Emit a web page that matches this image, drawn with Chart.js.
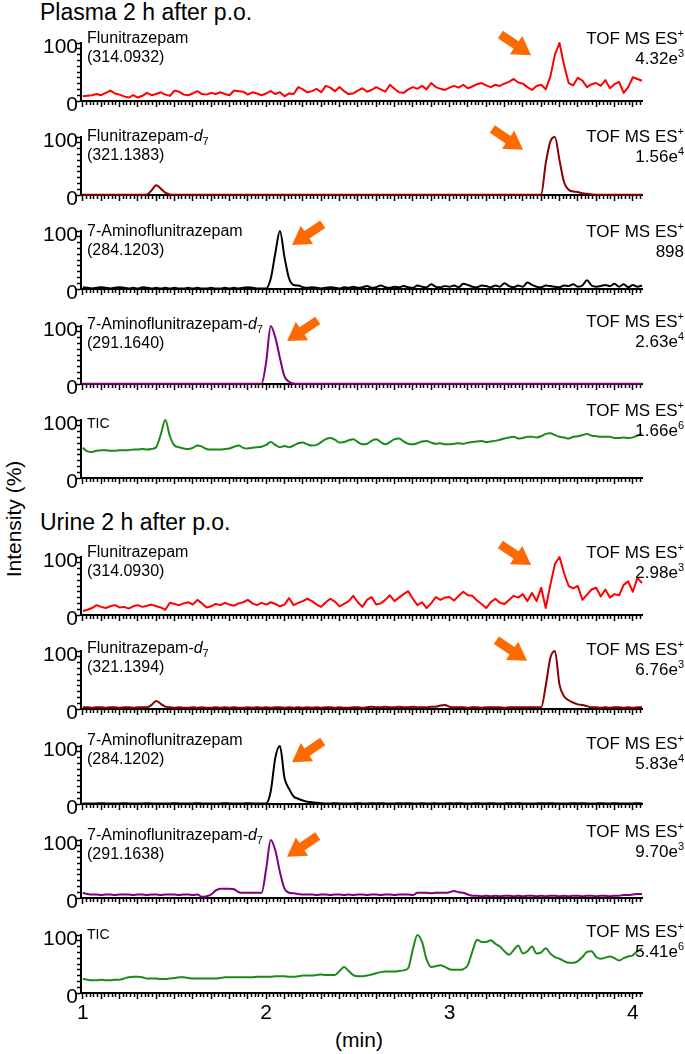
<!DOCTYPE html>
<html>
<head>
<meta charset="utf-8">
<script src="https://cdn.jsdelivr.net/npm/chart.js"></script>
<style>
  body { margin: 0; background: #fff; }
  #fig { position: relative; width: 685px; height: 1054px; overflow: hidden;
         font-family: 'Liberation Sans', Arial, sans-serif; color: #000; }
  .box { position: absolute; left: 0; width: 660px; }
  .title { position: absolute; left: 40px; font-size: 23px; line-height: 23px; white-space: nowrap; }
  .name { position: absolute; left: 87px; font-size: 16px; line-height: 19px; white-space: nowrap; }
  .tic { font-size: 14px; }
  .tof { position: absolute; right: 1px; font-size: 17px; line-height: 20px; text-align: right; white-space: nowrap; }
  sup, sub { font-size: 11px; line-height: 0; }
  #ylab { position: absolute; left: -56.5px; top: 507px; width: 140px; height: 24px; line-height: 24px;
          font-size: 21px; text-align: center; transform: rotate(-90deg); white-space: nowrap; }
  #xlab { position: absolute; left: 309px; top: 1029px; width: 100px; font-size: 21px; line-height: 21px; text-align: center; }
</style>
</head>
<body>
<div id="fig">
  <div id="ylab">Intensity (%)</div>
  <div id="xlab">(min)</div>
</div>
<script>
// retention time (min)
const times = [
  1, 1.025, 1.05, 1.075, 1.1, 1.125, 1.15, 1.175, 1.2, 1.225,
  1.25, 1.275, 1.3, 1.325, 1.35, 1.375, 1.4, 1.425, 1.45, 1.475,
  1.5, 1.525, 1.55, 1.575, 1.6, 1.625, 1.65, 1.675, 1.7, 1.725,
  1.75, 1.775, 1.8, 1.825, 1.85, 1.875, 1.9, 1.925, 1.95, 1.975,
  2, 2.025, 2.05, 2.075, 2.1, 2.125, 2.15, 2.175, 2.2, 2.225,
  2.25, 2.275, 2.3, 2.325, 2.35, 2.375, 2.4, 2.425, 2.45, 2.475,
  2.5, 2.525, 2.55, 2.575, 2.6, 2.625, 2.65, 2.675, 2.7, 2.725,
  2.75, 2.775, 2.8, 2.825, 2.85, 2.875, 2.9, 2.925, 2.95, 2.975,
  3, 3.025, 3.05, 3.075, 3.1, 3.125, 3.15, 3.175, 3.2, 3.225,
  3.25, 3.275, 3.3, 3.325, 3.35, 3.375, 3.4, 3.425, 3.45, 3.475,
  3.5, 3.525, 3.55, 3.575, 3.6, 3.625, 3.65, 3.675, 3.7, 3.725,
  3.75, 3.775, 3.8, 3.825, 3.85, 3.875, 3.9, 3.925, 3.95, 3.975,
  4, 4.025, 4.05
];

// plasma, relative intensity (%)
const plasmaFlu = [
  8, 9, 10, 12, 10, 14, 18, 13, 11, 8,
  6, 10, 6, 9, 14, 10, 12, 15, 11, 9,
  18, 16, 11, 10, 13, 17, 12, 11, 14, 12,
  15, 12, 10, 18, 17, 16, 11, 15, 13, 10,
  13, 17, 12, 15, 8, 13, 12, 24, 20, 15,
  17, 21, 15, 26, 23, 17, 24, 17, 12, 13,
  18, 22, 16, 19, 24, 20, 16, 28, 21, 15,
  14, 20, 24, 21, 26, 20, 31, 24, 21, 19,
  23, 26, 23, 28, 22, 25, 29, 31, 27, 24,
  28, 26, 30, 33, 38, 32, 30, 24, 19, 26,
  28, 20, 42, 80, 100, 62, 31, 27, 40, 35,
  24, 29, 31, 26, 36, 22, 29, 33, 14, 24,
  41, 38, 35
];
const plasmaFluD7 = [
  0.5, 0.6, 0.5, 0.4, 0.5, 0.6, 0.5, 0.5, 0.4, 0.5,
  0.5, 0.6, 0.5, 0.5, 1, 8, 17, 11, 4, 1,
  0.6, 0.5, 0.5, 0.4, 0.5, 0.6, 0.5, 0.5, 0.5, 0.6,
  0.5, 0.4, 0.5, 0.6, 0.5, 0.5, 0.4, 0.5, 0.6, 0.5,
  0.5, 0.6, 0.5, 0.5, 0.4, 0.5, 0.6, 0.5, 0.5, 0.5,
  0.6, 0.5, 0.4, 0.5, 0.5, 0.6, 0.5, 0.5, 0.4, 0.5,
  0.5, 0.6, 0.5, 0.5, 0.6, 0.5, 0.4, 0.5, 0.6, 0.5,
  0.5, 0.5, 0.6, 0.5, 0.4, 0.5, 0.5, 0.6, 0.5, 0.5,
  0.6, 0.5, 0.5, 0.4, 0.5, 0.6, 0.5, 0.5, 0.5, 0.6,
  0.5, 0.4, 0.5, 0.6, 0.5, 0.5, 0.5, 0.6, 0.5, 0.5,
  1, 55, 92, 100, 60, 22, 9, 6, 5, 3,
  2, 1, 0.6, 0.5, 0.5, 0.6, 0.5, 0.5, 0.4, 0.5,
  0.5, 0.6, 0.5
];
const plasmaAmino = [
  3, 2, 1, 2, 3, 2, 1, 2, 3, 2,
  1, 2, 1, 3, 2, 1, 2, 1, 2, 1,
  2, 1, 1, 2, 1, 2, 1, 1, 2, 1,
  1, 2, 1, 2, 1, 2, 3, 2, 1, 1,
  1, 18, 62, 100, 55, 18, 7, 6, 3, 2,
  3, 2, 1, 2, 3, 2, 1, 3, 2, 4,
  2, 3, 5, 2, 3, 6, 3, 2, 4, 3,
  5, 3, 2, 6, 4, 3, 8, 4, 3, 5,
  4, 6, 3, 9, 7, 4, 3, 6, 5, 3,
  6, 4, 10, 5, 3, 6, 4, 11, 7, 4,
  3, 6, 5, 4, 3, 6, 5, 8, 4, 6,
  15, 6, 4, 5, 7, 5, 9, 4, 8, 3,
  7, 4, 6
];
const plasmaAminoD7 = [
  0.4, 0.5, 0.4, 0.5, 0.5, 0.4, 0.5, 0.4, 0.5, 0.5,
  0.4, 0.5, 0.5, 0.4, 0.5, 0.4, 0.5, 0.5, 0.4, 0.5,
  0.5, 0.4, 0.5, 0.5, 0.4, 0.5, 0.4, 0.5, 0.5, 0.4,
  0.5, 0.4, 0.5, 0.5, 0.4, 0.5, 0.5, 0.4, 0.5, 0.5,
  38, 100, 80, 45, 13, 4, 1, 0.5, 0.4, 0.5,
  0.5, 0.4, 0.5, 0.5, 0.4, 0.5, 0.4, 0.5, 0.5, 0.4,
  0.5, 0.4, 0.5, 0.5, 0.4, 0.5, 0.5, 0.4, 0.5, 0.5,
  0.4, 0.5, 0.5, 0.4, 0.5, 0.4, 0.5, 0.5, 0.4, 0.5,
  0.5, 0.4, 0.5, 0.5, 0.4, 0.5, 0.4, 0.5, 0.5, 0.4,
  0.5, 0.4, 0.5, 0.5, 0.4, 0.5, 0.5, 0.4, 0.5, 0.5,
  0.4, 0.5, 0.5, 0.4, 0.5, 0.4, 0.5, 0.5, 0.4, 0.5,
  0.5, 0.4, 0.5, 0.5, 0.4, 0.5, 0.4, 0.5, 0.5, 0.4,
  0.5, 0.5, 0.4
];
const plasmaTic = [
  52, 46, 45, 47, 48, 48, 47, 47, 48, 48,
  48, 49, 49, 50, 49, 50, 53, 75, 100, 72,
  56, 53, 51, 50, 52, 56, 54, 50, 49, 49,
  49, 50, 51, 54, 56, 52, 51, 52, 53, 54,
  57, 62, 57, 53, 55, 53, 56, 60, 61, 58,
  56, 57, 62, 67, 69, 66, 61, 62, 65, 67,
  62, 58, 59, 64, 67, 62, 58, 62, 67, 68,
  63, 59, 58, 60, 63, 64, 61, 59, 60, 58,
  58, 59, 60, 59, 61, 62, 63, 64, 62, 63,
  64, 66, 68, 70, 71, 68, 69, 71, 71, 70,
  72, 76, 77, 74, 71, 70, 68, 71, 72, 74,
  76, 73, 72, 71, 71, 71, 69, 69, 70, 69,
  70, 73, 77
];

// urine, relative intensity (%)
const urineFlu = [
  7, 9, 12, 17, 14, 12, 15, 17, 13, 14,
  11, 15, 17, 14, 16, 18, 15, 13, 9, 21,
  19, 17, 20, 22, 18, 26, 20, 13, 15, 19,
  17, 21, 18, 16, 20, 22, 26, 20, 17, 21,
  18, 22, 19, 15, 18, 29, 17, 21, 24, 28,
  24, 18, 14, 22, 28, 23, 15, 19, 24, 33,
  22, 14, 26, 31, 18, 20, 26, 34, 24, 30,
  36, 41, 28, 17, 22, 12, 20, 31, 26, 30,
  31, 25, 33, 40, 34, 33, 25, 19, 12, 22,
  28, 21, 19, 26, 33, 30, 36, 24, 38, 24,
  47, 12, 52, 88, 100, 72, 50, 46, 50, 26,
  35, 44, 47, 32, 44, 30, 36, 34, 52, 58,
  40, 64, 55
];
const urineFluD7 = [
  3, 3, 2, 3, 3, 2, 3, 3, 2, 3,
  3, 2, 3, 3, 3, 7, 14, 9, 4, 3,
  2, 3, 2, 2, 3, 2, 3, 2, 2, 3,
  2, 3, 2, 3, 2, 2, 3, 2, 3, 2,
  3, 2, 3, 3, 2, 3, 2, 3, 2, 3,
  2, 3, 2, 3, 3, 2, 3, 2, 2, 3,
  3, 2, 3, 4, 3, 3, 4, 3, 3, 4,
  3, 3, 4, 3, 3, 3, 4, 4, 6, 7,
  4, 3, 3, 3, 2, 3, 3, 2, 3, 3,
  3, 3, 2, 3, 3, 3, 3, 3, 3, 3,
  3, 40, 88, 100, 42, 22, 15, 11, 8, 7,
  5, 3, 3, 2, 3, 2, 3, 3, 2, 3,
  2, 3, 3
];
const urineAmino = [
  1, 1, 0.8, 1, 1.2, 1, 0.8, 1, 1, 1.2,
  1, 0.8, 1, 1, 1.2, 1, 1, 0.8, 1, 1,
  1.2, 1, 0.8, 1, 1, 1.2, 1, 1, 0.8, 1,
  1, 1.2, 1, 0.8, 1, 1, 1.2, 1, 1, 0.8,
  1, 22, 80, 100, 45, 26, 13, 9, 6, 4,
  3, 2, 1.5, 1, 1, 1.2, 1, 0.8, 1, 1,
  1.2, 1, 0.8, 1.5, 1, 1.2, 1, 0.8, 1, 1.5,
  1, 1.2, 1, 0.8, 1.5, 1, 1, 1.2, 0.8, 1,
  1.5, 1, 1.2, 1, 0.8, 1, 1.5, 1, 1, 1.2,
  1, 0.8, 1, 1.5, 1, 1.2, 1, 1, 0.8, 1,
  1.2, 1, 1.5, 1, 0.8, 1, 1, 1.2, 1, 1.5,
  1, 0.8, 1, 1.2, 1, 1, 1.5, 1, 0.8, 1,
  1, 1.2, 1
];
const urineAminoD7 = [
  9, 7, 6, 6, 5, 6, 6, 5, 6, 6,
  6, 5, 6, 6, 5, 6, 6, 5, 6, 6,
  6, 5, 6, 6, 5, 6, 2, 3, 6, 13,
  16, 16, 16, 15, 10, 9, 9, 9, 9, 9,
  50, 100, 82, 45, 16, 9, 8, 7, 6, 6,
  6, 5, 6, 6, 5, 6, 6, 5, 6, 5,
  6, 6, 5, 6, 6, 5, 6, 6, 5, 6,
  6, 6, 5, 9, 9, 9, 8, 9, 9, 9,
  10, 12, 10, 9, 6, 4, 4, 3, 4, 3,
  4, 3, 4, 4, 3, 4, 3, 4, 4, 3,
  4, 3, 4, 4, 3, 4, 3, 4, 4, 3,
  4, 4, 3, 4, 4, 3, 4, 4, 5, 5,
  6, 7, 7
];
const urineTic = [
  24, 23, 22, 22, 23, 22, 22, 23, 23, 25,
  27, 28, 28, 27, 25, 25, 25, 24, 24, 25,
  26, 27, 27, 26, 25, 25, 25, 25, 25, 25,
  26, 27, 27, 27, 27, 27, 27, 27, 28, 28,
  28, 28, 29, 29, 29, 28, 28, 29, 30, 30,
  30, 31, 32, 31, 31, 31, 38, 45, 38, 31,
  29, 29, 30, 32, 34, 36, 37, 37, 37, 38,
  39, 43, 75, 100, 88, 58, 45, 46, 48, 45,
  41, 40, 40, 41, 48, 72, 92, 88, 88, 91,
  85, 80, 72, 66, 74, 82, 68, 72, 80, 68,
  70, 77, 68, 62, 59, 55, 52, 52, 55, 62,
  71, 72, 62, 59, 61, 63, 60, 56, 60, 63,
  65, 72, 77
];

const sampleTitles = ['Plasma 2 h after p.o.', 'Urine 2 h after p.o.'];
const compoundNames = [
  'Flunitrazepam', 'Flunitrazepam-<i>d</i><sub>7</sub>', '7-Aminoflunitrazepam', '7-Aminoflunitrazepam-<i>d</i><sub>7</sub>', 'TIC',
  'Flunitrazepam', 'Flunitrazepam-<i>d</i><sub>7</sub>', '7-Aminoflunitrazepam', '7-Aminoflunitrazepam-<i>d</i><sub>7</sub>', 'TIC'
];
const mzValues = ['314.0932', '321.1383', '284.1203', '291.1640', '', '314.0930', '321.1394', '284.1202', '291.1638', ''];
const scaleFactors = ['4.32e3', '1.56e4', '898', '2.63e4', '1.66e6', '2.98e3', '6.76e3', '5.83e4', '9.70e3', '5.41e6'];
const yTickLabels = [0, 100];
const xTickLabels = [1, 2, 3, 4];

const seriesList = [plasmaFlu, plasmaFluD7, plasmaAmino, plasmaAminoD7, plasmaTic,
                    urineFlu, urineFluD7, urineAmino, urineAminoD7, urineTic];

// layout / styling
const lineColors = ['#ff0000', '#8b0000', '#000000', '#800080', '#1a8a1a',
                    '#ff0000', '#8b0000', '#000000', '#800080', '#1a8a1a'];
const noisy = [true, false, false, false, false, true, false, false, false, false];
const plotTops = [43, 137, 231, 326, 420, 557, 651, 746, 840, 935];
const nameTops = [28, 126, 221, 314, 414, 542, 638, 730, 825, 925];
const tofTops = [29, 127, 222, 312, 401, 543, 640, 734, 822, 922];
const titleTops = [1, 511];
const arrows = [
  {x: 3.445, y: 79, dir: 'right'}, {x: 3.401, y: 78, dir: 'right'},
  {x: 2.141, y: 76, dir: 'left'}, {x: 2.114, y: 74, dir: 'left'}, false,
  {x: 3.445, y: 86, dir: 'right'}, {x: 3.423, y: 83, dir: 'right'},
  {x: 2.141, y: 72, dir: 'left'}, {x: 2.114, y: 71, dir: 'left'}, false
];

const PLOT_H = 58, PAD_TOP = 22;
const FONT = "'Liberation Sans', Arial, sans-serif";
Chart.defaults.font.family = FONT;
Chart.defaults.color = '#000';

// x ticks every 0.02 min, longer every 0.1 min
const xTickValues = [];
for (let k = 50; k <= 202; k++) xTickValues.push(k / 50);

const arrowPlugin = {
  id: 'arrow',
  afterDatasetsDraw(chart, args, opts) {
    if (opts.x === undefined) return;
    const ctx = chart.ctx;
    const tx = chart.scales.x.getPixelForValue(opts.x);
    const ty = chart.scales.y.getPixelForValue(opts.y);
    const ux = opts.dir === 'left' ? -0.83 : 0.83, uy = 0.56;
    const nx = -uy, ny = ux;
    const pts = [[0, 0], [-18, 11], [-18, 4.5], [-37, 4.5], [-37, -4.5], [-18, -4.5], [-18, -11]];
    ctx.save();
    ctx.beginPath();
    pts.forEach(([u, v], k) => {
      const px = tx + u * ux + v * nx, py = ty + u * uy + v * ny;
      if (k) ctx.lineTo(px, py); else ctx.moveTo(px, py);
    });
    ctx.closePath();
    ctx.fillStyle = '#ff6a00';
    ctx.fill();
    ctx.restore();
  }
};

const fig = document.getElementById('fig');

function addText(cls, top, html) {
  const d = document.createElement('div');
  d.className = cls;
  d.style.top = top + 'px';
  d.innerHTML = html;
  fig.appendChild(d);
}

sampleTitles.forEach((t, i) => addText('title', titleTops[i], t));

seriesList.forEach((series, i) => {
  const last = i === seriesList.length - 1;
  const axisH = last ? 45 : 6;
  const padBottom = last ? 0 : 10;
  const h = PAD_TOP + PLOT_H + axisH + padBottom;

  const box = document.createElement('div');
  box.className = 'box';
  box.style.top = (plotTops[i] - PAD_TOP) + 'px';
  const cv = document.createElement('canvas');
  cv.width = 660; cv.height = h;
  cv.style.width = '660px'; cv.style.height = h + 'px';
  box.appendChild(cv);
  fig.appendChild(box);

  const isTic = compoundNames[i] === 'TIC';
  addText(isTic ? 'name tic' : 'name', nameTops[i],
          compoundNames[i] + (mzValues[i] ? '<br>(' + mzValues[i] + ')' : ''));
  const sf = scaleFactors[i].split('e');
  addText('tof', tofTops[i], 'TOF MS ES<sup>+</sup><br>' + sf[0] + (sf[1] ? 'e<sup>' + sf[1] + '</sup>' : ''));

  new Chart(cv, {
    type: 'line',
    data: {
      datasets: [{
        data: series.map((v, k) => ({x: times[k], y: v})),
        borderColor: lineColors[i],
        borderWidth: 2,
        pointRadius: 0,
        fill: false,
        tension: 0,
        cubicInterpolationMode: noisy[i] ? 'default' : 'monotone',
        borderJoinStyle: 'round',
        clip: false
      }]
    },
    options: {
      responsive: false,
      animation: false,
      devicePixelRatio: 1,
      layout: {padding: {top: PAD_TOP, right: 18, bottom: padBottom, left: 0}},
      plugins: {
        legend: {display: false},
        tooltip: {enabled: false},
        arrow: arrows[i]
      },
      scales: {
        x: {
          type: 'linear',
          bounds: 'data',
          min: 0.99,
          max: 4.05,
          afterBuildTicks: s => { s.ticks = xTickValues.map(v => ({value: v})); },
          afterFit: s => { s.height = axisH; },
          ticks: {
            autoSkip: false,
            maxRotation: 0,
            padding: 2,
            font: {size: 21},
            color: '#000',
            callback: v => (last && xTickLabels.includes(v)) ? String(v) : ''
          },
          grid: {
            drawOnChartArea: false,
            tickLength: 6,
            tickWidth: 1.5,
            tickColor: '#000',
            tickBorderDash: c => (Math.round(c.tick.value * 50) % 5 === 0) ? [] : [3, 20]
          },
          border: {color: '#000', width: 2}
        },
        y: {
          min: 0,
          max: 100,
          afterFit: s => { s.width = 81; },
          ticks: {
            stepSize: 10,
            autoSkip: false,
            padding: -3,
            labelOffset: 4,
            font: {size: 21},
            color: '#000',
            callback: v => yTickLabels.includes(v) ? String(v) : ''
          },
          grid: {
            drawOnChartArea: false,
            tickLength: 6,
            tickWidth: 1.5,
            tickColor: '#000',
            tickBorderDash: c => (c.tick.value % 100 === 0) ? [] : [0, 2, 3, 100]
          },
          border: {color: '#000', width: 2}
        }
      }
    },
    plugins: [arrowPlugin]
  });
});
</script>
</body>
</html>
